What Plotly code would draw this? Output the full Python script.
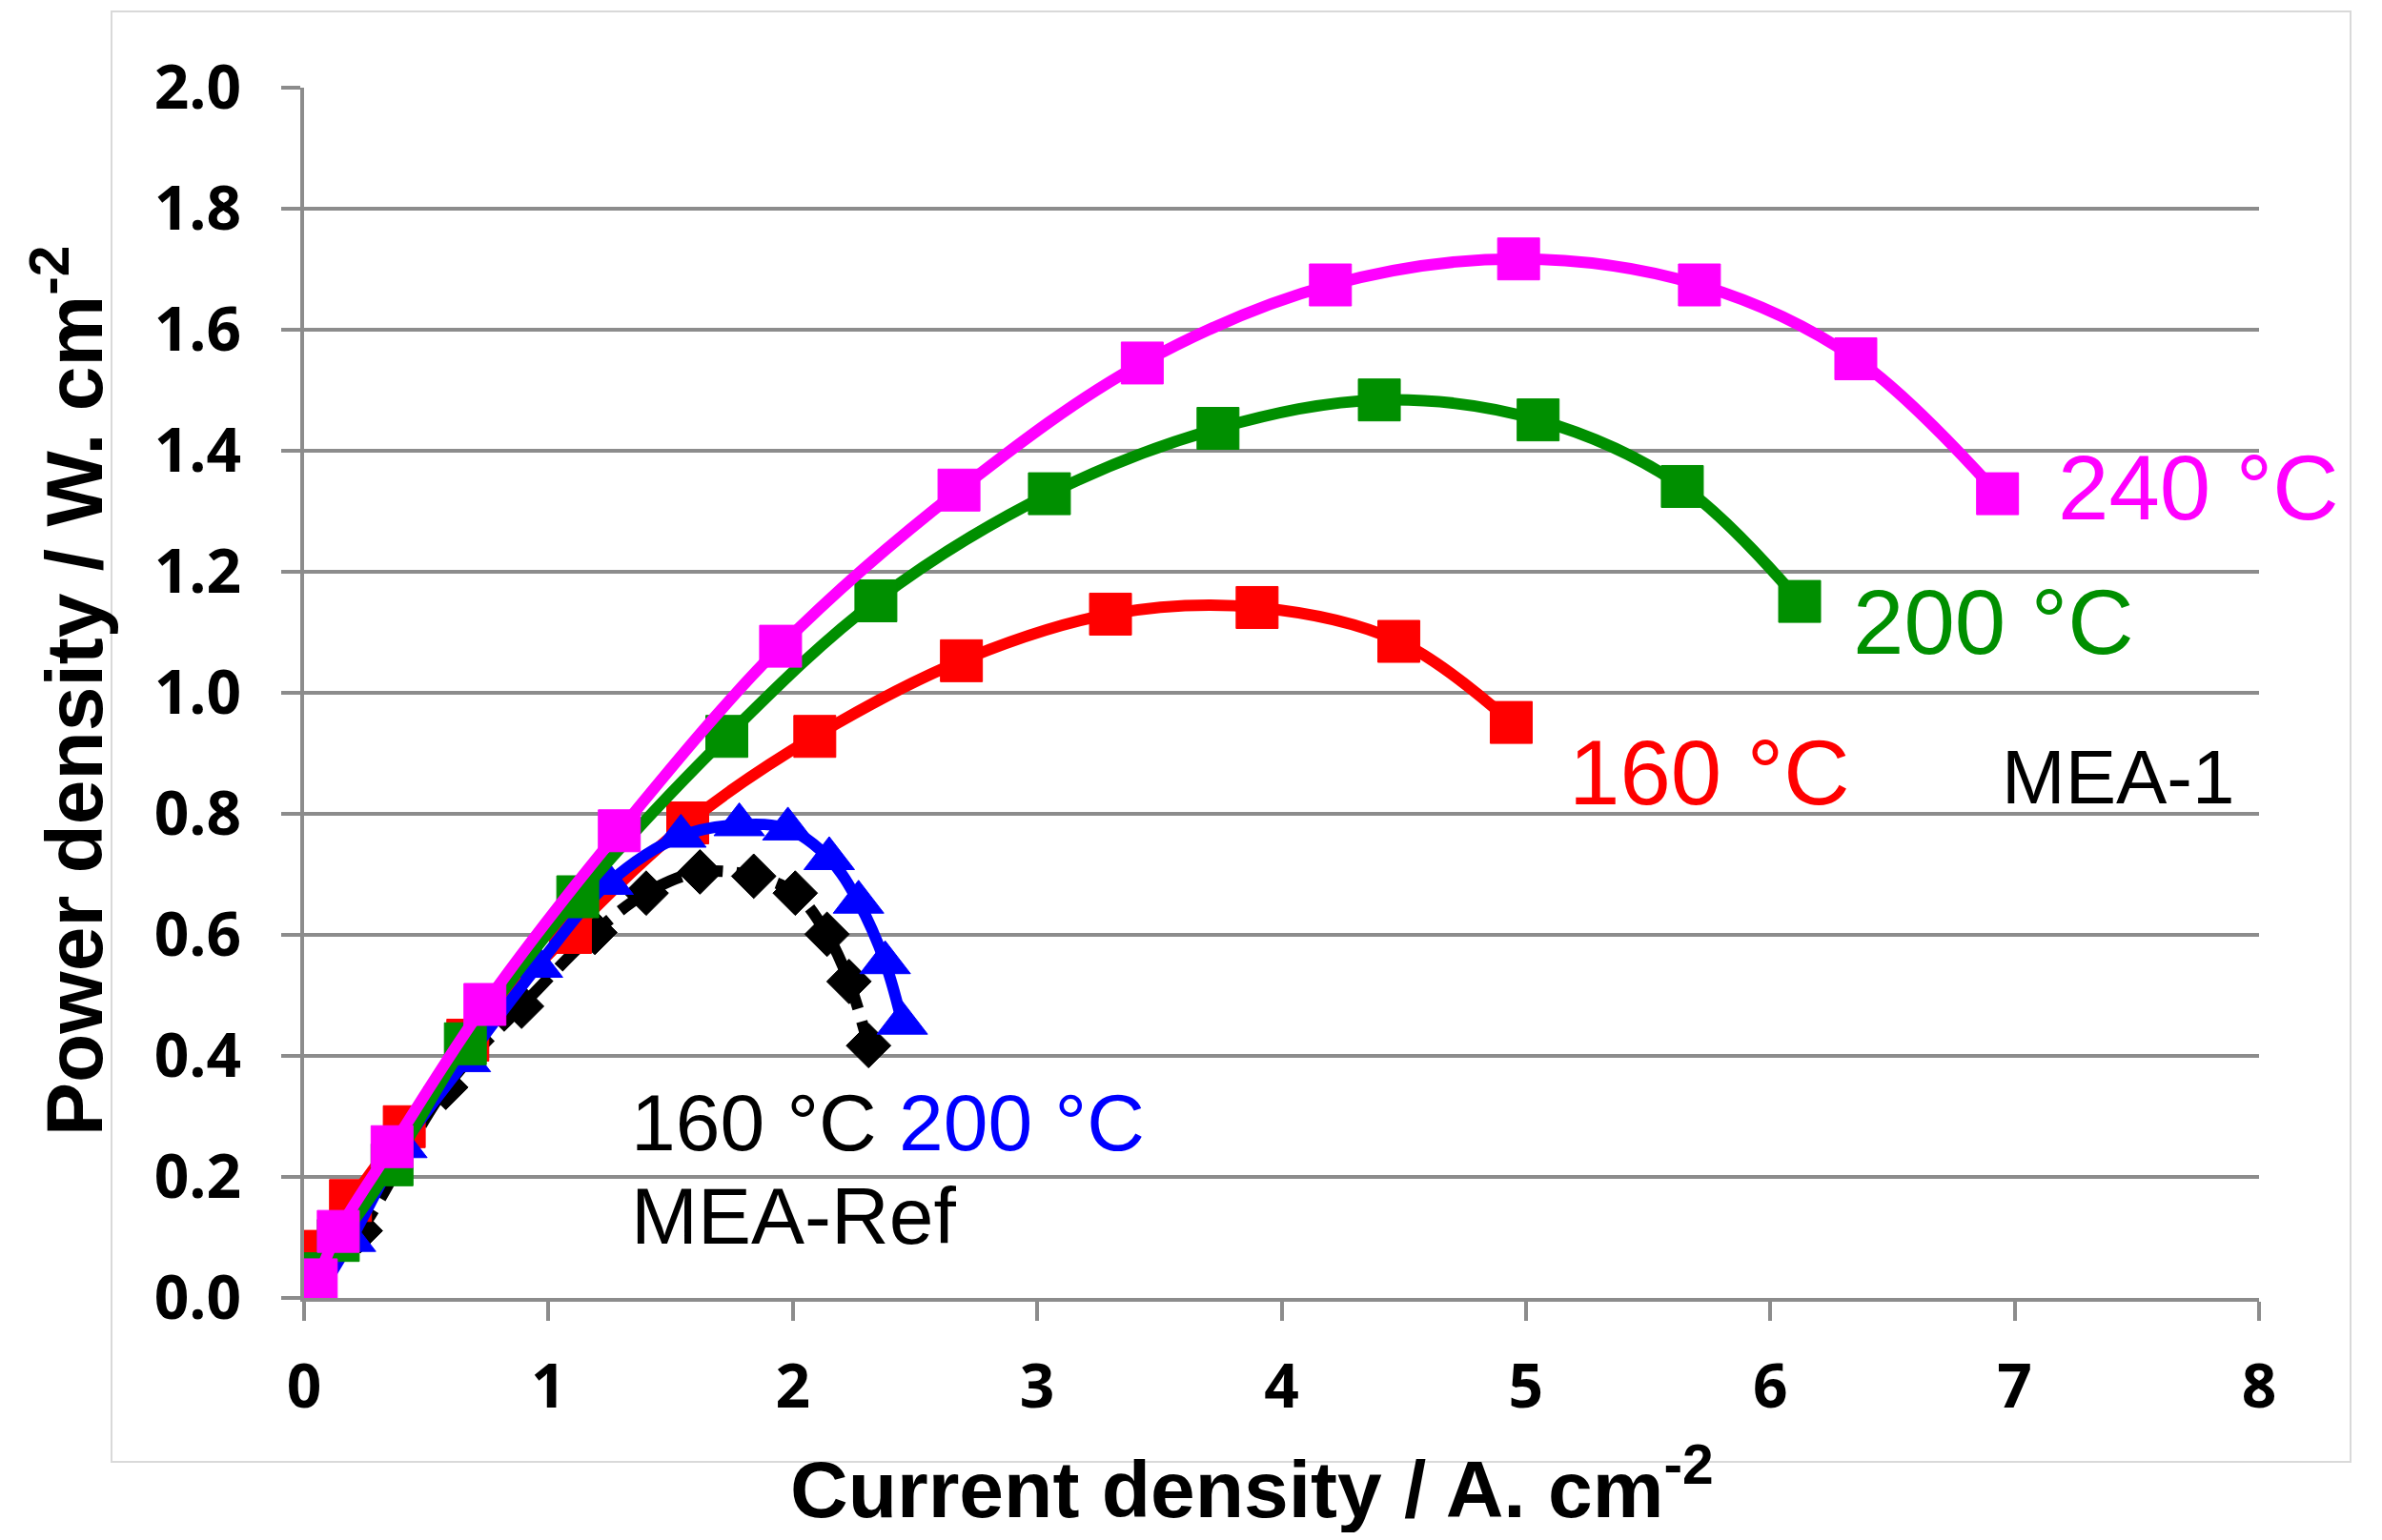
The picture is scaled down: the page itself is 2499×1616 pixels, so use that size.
import plotly.graph_objects as go

# ---------------- data ----------------
mea1_240_x = [0, 0.05, 0.14, 0.36, 0.74, 1.29, 1.95, 2.68, 3.43, 4.20, 4.97, 5.71, 6.35, 6.93]
mea1_240_y = [0, 0.03, 0.11, 0.25, 0.485, 0.772, 1.077, 1.335, 1.545, 1.674, 1.717, 1.674, 1.552, 1.329]

mea1_200_x = [0, 0.14, 0.36, 0.66, 1.12, 1.73, 2.34, 3.05, 3.74, 4.40, 5.05, 5.64, 6.12]
mea1_200_y = [0.04, 0.095, 0.22, 0.42, 0.663, 0.928, 1.152, 1.329, 1.437, 1.484, 1.451, 1.341, 1.151]

mea1_160_x = [0, 0.03, 0.19, 0.41, 0.67, 1.09, 1.57, 2.09, 2.69, 3.30, 3.90, 4.48, 4.94]
mea1_160_y = [0.035, 0.077, 0.161, 0.283, 0.426, 0.604, 0.785, 0.928, 1.053, 1.130, 1.141, 1.085, 0.951]

ref_200_x = [0.05, 0.19, 0.40, 0.66, 0.955, 1.244, 1.542, 1.781, 1.980, 2.149, 2.269, 2.378, 2.448]
ref_200_y = [0.0, 0.095, 0.25, 0.392, 0.548, 0.685, 0.763, 0.782, 0.775, 0.726, 0.654, 0.554, 0.454]

ref_160_x = [0, 0.23, 0.58, 0.89, 1.19, 1.40, 1.62, 1.84, 2.01, 2.14, 2.23, 2.31]
ref_160_y = [0, 0.111, 0.348, 0.482, 0.604, 0.669, 0.704, 0.697, 0.669, 0.601, 0.523, 0.417]

x_ticks = [0, 1, 2, 3, 4, 5, 6, 7, 8]
y_ticks = [0.0, 0.2, 0.4, 0.6, 0.8, 1.0, 1.2, 1.4, 1.6, 1.8, 2.0]

# ---------------- styling ----------------
# page body has an 8px margin, so the figure is shrunk by 16px and everything
# is placed relative to the reference picture shifted by 8px
OFF = 8
W, H = 2499 - 2 * OFF, 1616 - 2 * OFF
X0, X1, Y0, Y1 = 319, 2370, 1362, 92          # plot area in reference pixels
ML, MT = X0 - OFF, Y1 - OFF
MR, MB = W - (X1 - OFF), H - (Y0 - OFF)
PW, PH = X1 - X0, Y0 - Y1
GRID = "#8c8c8c"
MAG, GRN, RED, BLU, BLK = "#FF00FF", "#008F00", "#FF0000", "#0000FF", "#000000"


def px_x(p):
    return (p - X0) / PW


def px_y(p):
    return (Y0 - p) / PH


fig = go.Figure()


def add(x, y, color, symbol, size, dash="solid", width=12):
    fig.add_trace(go.Scatter(
        x=x, y=y, mode="lines+markers",
        line=dict(color=color, width=width, shape="spline", dash=dash),
        marker=dict(symbol=symbol, size=size, color=color,
                    line=dict(color=color, width=1)),
        showlegend=False, hoverinfo="skip"))


add(ref_160_x, ref_160_y, BLK, "diamond", 36, dash="30px,14px", width=12)
add(mea1_160_x, mea1_160_y, RED, "square", 44)
add(ref_200_x, ref_200_y, BLU, "triangle-up", 46)
add(mea1_200_x, mea1_200_y, GRN, "square", 44)
add(mea1_240_x, mea1_240_y, MAG, "square", 44)

tickfont = dict(family="Open Sans", size=64, color="black", weight="bold")

fig.update_xaxes(
    range=[0, 8], tickmode="array", tickvals=x_ticks,
    ticktext=[str(v) for v in x_ticks],
    showgrid=False, zeroline=False,
    showline=True, linecolor=GRID, linewidth=4,
    ticks="outside", ticklen=20, tickwidth=4, tickcolor=GRID,
    tickfont=tickfont, ticklabelstandoff=14)

fig.update_yaxes(
    range=[0, 2], tickmode="array", tickvals=y_ticks,
    ticktext=[f"{v:.1f}" for v in y_ticks],
    showgrid=True, gridcolor=GRID, gridwidth=4, zeroline=False,
    showline=True, linecolor=GRID, linewidth=4,
    ticks="outside", ticklen=20, tickwidth=4, tickcolor=GRID,
    tickfont=tickfont, ticklabelstandoff=29)

lab = "Liberation Sans"
annots = [
    dict(text="240 °C", x=7.17, y=1.34, color=MAG, size=96),
    dict(text="200 °C", x=6.33, y=1.117, color=GRN, size=96),
    dict(text="160 °C", x=5.17, y=0.869, color=RED, size=96),
    dict(text="MEA-1", x=6.94, y=0.861, color=BLK, size=80),
    dict(text="160 °C <span style='color:#0000FF'>200 °C</span>", x=1.33, y=0.29, color=BLK, size=84),
    dict(text="MEA-Ref", x=1.33, y=0.135, color=BLK, size=84),
]
for a in annots:
    fig.add_annotation(x=a["x"], y=a["y"], xref="x", yref="y", text=a["text"],
                       showarrow=False, xanchor="left", yanchor="middle",
                       font=dict(family=lab, size=a["size"], color=a["color"]))

# axis titles
fig.add_annotation(x=px_x(1313), y=px_y(1557), xref="paper", yref="paper",
                   text="Current density / A. cm<sup>-2</sup>", showarrow=False,
                   xanchor="center", yanchor="middle",
                   font=dict(family=lab, size=84, color="black", weight="bold"))
fig.add_annotation(x=px_x(72), y=px_y(725), xref="paper", yref="paper",
                   text="Power density / W. cm<sup>-2</sup>", showarrow=False,
                   textangle=-90, xanchor="center", yanchor="middle",
                   font=dict(family=lab, size=84, color="black", weight="bold"))

# chart-area border
fig.add_shape(type="rect", xref="paper", yref="paper",
              x0=px_x(117), x1=px_x(2466), y0=px_y(1534), y1=px_y(12),
              line=dict(color="#d9d9d9", width=2), fillcolor="rgba(0,0,0,0)",
              layer="below")

fig.update_layout(
    width=W, height=H,
    margin=dict(l=ML, r=MR, t=MT, b=MB, pad=0),
    plot_bgcolor="white", paper_bgcolor="white",
    showlegend=False,
)

fig.write_html("out.html")
